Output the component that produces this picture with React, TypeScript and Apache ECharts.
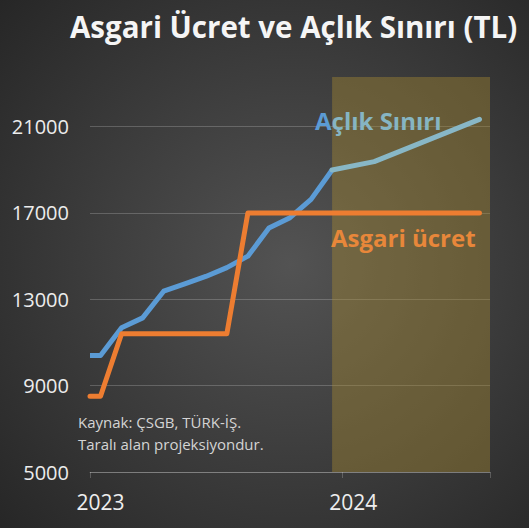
import React, { useEffect, useRef } from "react";
import * as echarts from "echarts";

// Months shown on the category axis (Jan 2023 – Jul 2024)
const months = [
  "2023-01", "2023-02", "2023-03", "2023-04", "2023-05", "2023-06",
  "2023-07", "2023-08", "2023-09", "2023-10", "2023-11", "2023-12",
  "2024-01", "2024-02", "2024-03", "2024-04", "2024-05", "2024-06", "2024-07",
];

// Açlık sınırı (actual), one value per month
const hungerActual = [
  10400, 11680, 12140, 13375, 13720, 14060, 14470, 15000, 16300, 16780, 17630, 18990,
];
// Açlık sınırı projection (shaded area), nulls where no vertex
const hungerProjection = [
  null, null, null, null, null, null, null, null, null, null, null, 18990,
  null, 19380, null, null, null, null, 21340,
];
// Asgari ücret (net minimum wage)
const minWage = [
  8506, 11402, 11402, 11402, 11402, 11402, 11402, 17002, 17002, 17002, 17002, 17002,
  17002, 17002, 17002, 17002, 17002, 17002, 17002,
];

const yTicks = [5000, 9000, 13000, 17000, 21000];
const yMax = 23300;
const projectionStartIndex = 11;

const title = "Asgari Ücret ve Açlık Sınırı (TL)";
const sourceLines = ["Kaynak: ÇSGB, TÜRK-İŞ.", "Taralı alan projeksiyondur."];

export default function App() {
  const ref = useRef<HTMLDivElement>(null);

  useEffect(() => {
    if (!ref.current) return;
    const chart = echarts.init(ref.current, undefined, { renderer: "svg" });

    const toPts = (arr: (number | null)[], withStart: boolean) => {
      const pts: any[] = arr.map((v, i) => [i, v]);
      if (withStart) pts.unshift([-0.5, arr[0]]);
      return pts;
    };

    const font = '"Open Sans", "Noto Sans", sans-serif';
    const gridColor = "rgba(255,255,255,0.2)";
    const yearIdx = (i: number) => i % 12 === 0;

    chart.setOption({
      animation: false,
      backgroundColor: {
        type: "radial",
        x: 0.55,
        y: 0.5,
        r: 0.75,
        colorStops: [
          { offset: 0, color: "#535353" },
          { offset: 1, color: "#262626" },
        ],
      },
      grid: { left: 90, right: 39, top: 77, bottom: 56 },
      xAxis: [
        {
          type: "category",
          data: months,
          boundaryGap: true,
          axisLine: { show: true, lineStyle: { color: gridColor, width: 1 } },
          axisTick: {
            show: true,
            interval: (i: number) => yearIdx(i),
            length: 6,
            lineStyle: { color: gridColor },
          },
          axisLabel: {
            interval: (i: number) => yearIdx(i),
            formatter: (v: string) => v.slice(0, 4),
            color: "#eeeeee",
            fontFamily: font,
            fontSize: 21,
            margin: 19,
          },
          splitLine: { show: false },
        },
        {
          type: "value",
          min: -0.5,
          max: months.length - 0.5,
          show: false,
        },
      ],
      yAxis: {
        type: "value",
        min: yTicks[0],
        max: yMax,
        interval: yTicks[1] - yTicks[0],
        axisLine: { show: false },
        axisTick: { show: false },
        axisLabel: {
          showMaxLabel: false,
          color: "#ececec",
          fontFamily: font,
          fontSize: 20,
          margin: 21,
          formatter: (v: number) => (yTicks.includes(v) ? String(v) : ""),
        },
        splitLine: {
          show: true,
          showMaxLine: false,
          lineStyle: {
            color: [gridColor, gridColor, gridColor, gridColor, gridColor, "rgba(0,0,0,0)"],
            width: 1,
          },
        },
      },
      series: [
        {
          type: "line",
          xAxisIndex: 1,
          data: [],
          z: 1,
          silent: true,
          markArea: {
            silent: true,
            itemStyle: { color: "rgba(170,140,50,0.4)" },
            data: [[{ xAxis: projectionStartIndex }, { xAxis: months.length - 0.5 }]],
          },
        },
        {
          name: "Açlık Sınırı",
          type: "line",
          xAxisIndex: 1,
          z: 3,
          data: toPts(hungerActual, true),
          showSymbol: false,
          lineStyle: { color: "#5B9BD5", width: 5, join: "round" },
        },
        {
          name: "Açlık Sınırı (projeksiyon)",
          type: "line",
          xAxisIndex: 1,
          z: 3,
          connectNulls: true,
          data: toPts(hungerProjection, false),
          showSymbol: false,
          lineStyle: { color: "#88b7c6", width: 5, join: "round", cap: "round" },
        },
        {
          name: "Asgari ücret",
          type: "line",
          xAxisIndex: 1,
          z: 4,
          data: toPts(minWage, true),
          showSymbol: false,
          lineStyle: { color: "#ED7D31", width: 5, join: "round", cap: "round" },
        },
      ],
      graphic: [
        {
          type: "text",
          z: 10,
          x: 70,
          y: 26.5,
          style: {
            text: title,
            verticalAlign: "middle",
            fill: "#f5f5f5",
            fontFamily: font,
            fontWeight: "bold",
            fontSize: 29.5,
          },
        },
        {
          type: "text",
          z: 10,
          x: 315,
          y: 120.5,
          style: {
            text: "{a|A}{b|çlık Sınırı}",
            verticalAlign: "middle",
            fontFamily: font,
            fontWeight: "bold",
            fontSize: 24,
            rich: {
              a: { fill: "#5B9BD5", fontFamily: font, fontWeight: "bold", fontSize: 24 },
              b: { fill: "#86b5c3", fontFamily: font, fontWeight: "bold", fontSize: 24 },
            },
          },
        },
        {
          type: "text",
          z: 10,
          x: 331,
          y: 237,
          style: {
            text: "Asgari ücret",
            verticalAlign: "middle",
            fill: "#E8873A",
            fontFamily: font,
            fontWeight: "bold",
            fontSize: 24,
          },
        },
        {
          type: "text",
          z: 10,
          x: 78,
          y: 421.5,
          style: {
            text: sourceLines[0],
            verticalAlign: "middle",
            fill: "#d4d4d4",
            fontFamily: font,
            fontSize: 15,
          },
        },
        {
          type: "text",
          z: 10,
          x: 78,
          y: 444,
          style: {
            text: sourceLines[1],
            verticalAlign: "middle",
            fill: "#d4d4d4",
            fontFamily: font,
            fontSize: 15,
          },
        },
      ],
    });

    return () => chart.dispose();
  }, []);

  return (
    <div
      ref={ref}
      style={{ position: "absolute", left: 0, top: 0, width: 529, height: 528 }}
    />
  );
}
